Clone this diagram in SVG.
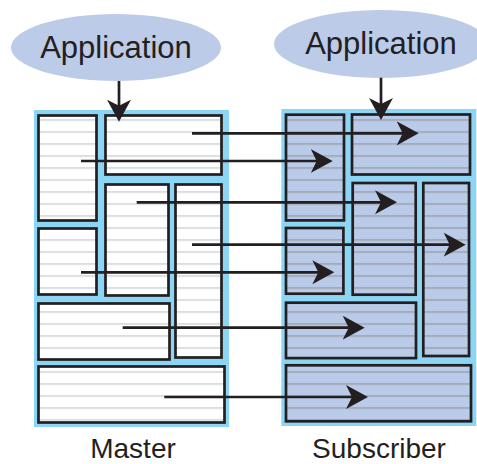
<svg xmlns="http://www.w3.org/2000/svg" width="477" height="464" viewBox="0 0 477 464">
<style>
.panel{fill:#8dd5f4}
.mbox{fill:url(#mstripe);stroke:#231f20;stroke-width:2.7}
.sbox{fill:url(#sstripe);stroke:#231f20;stroke-width:2.7}
.app{fill:#bccbe8}
.txt{font-family:"Liberation Sans",Arial,sans-serif;fill:#231f20}
.arr{stroke:#231f20;stroke-width:2.7;fill:none;marker-end:url(#head)}
</style>
<defs>
<pattern id="mstripe" patternUnits="userSpaceOnUse" x="0" y="-0.75" width="10" height="12">
<rect width="10" height="12" fill="#ffffff"/>
<rect width="10" height="1.5" fill="#cfd3d7"/>
</pattern>
<pattern id="sstripe" patternUnits="userSpaceOnUse" x="0" y="-0.75" width="10" height="12">
<rect width="10" height="12" fill="#b9cbe8"/>
<rect width="10" height="1.5" fill="#9ea2a8"/>
</pattern>
<marker id="head" markerUnits="userSpaceOnUse" markerWidth="24" markerHeight="26" viewBox="0 0 24 26" refX="12" refY="12" orient="auto">
<path d="M0,0 L22,12 L0,24 L6,12 Z" fill="#231f20"/>
</marker>
</defs>
<g id="app-master">
<ellipse class="app" cx="116" cy="47.5" rx="105" ry="33.5"/>
<text class="txt" x="116" y="58" font-size="31" text-anchor="middle">Application</text>
</g>
<g id="app-subscriber">
<ellipse class="app" cx="381" cy="44" rx="107" ry="34"/>
<text class="txt" x="381" y="54" font-size="31" text-anchor="middle">Application</text>
</g>
<g id="master">
<rect class="panel" x="34" y="110" width="195" height="317"/>
<rect id="m-a" class="mbox" x="38.5" y="115.5" width="58" height="105"/>
<rect id="m-b" class="mbox" x="105.5" y="115.5" width="116" height="59"/>
<rect id="m-c" class="mbox" x="105.5" y="184.5" width="63" height="111"/>
<rect id="m-d" class="mbox" x="175.5" y="184.5" width="46" height="173"/>
<rect id="m-e" class="mbox" x="38.5" y="228.5" width="58" height="66"/>
<rect id="m-f" class="mbox" x="38.5" y="303.5" width="131" height="56"/>
<rect id="m-g" class="mbox" x="38.5" y="366.5" width="186" height="56"/>
<text class="txt" x="133" y="457.5" font-size="28" text-anchor="middle">Master</text>
</g>
<g id="subscriber">
<rect class="panel" x="281.3" y="109" width="195" height="317"/>
<rect id="s-a" class="sbox" x="286" y="114.7" width="58" height="105.7"/>
<rect id="s-b" class="sbox" x="352" y="114.5" width="118" height="60"/>
<rect id="s-c" class="sbox" x="352.7" y="183" width="63" height="111.7"/>
<rect id="s-d" class="sbox" x="423.3" y="183" width="45.7" height="173"/>
<rect id="s-e" class="sbox" x="286" y="228" width="57.4" height="65.7"/>
<rect id="s-f" class="sbox" x="286" y="302.7" width="130" height="55.4"/>
<rect id="s-g" class="sbox" x="286" y="365.3" width="185" height="56"/>
<text class="txt" x="379" y="457.5" font-size="28" text-anchor="middle">Subscriber</text>
</g>
<g id="connectors">
<line class="arr" x1="119" y1="81" x2="119" y2="111.7"/>
<line class="arr" x1="381" y1="77.7" x2="381" y2="110"/>
<line class="arr" x1="192" y1="133.3" x2="408.7" y2="133.3"/>
<line class="arr" x1="81" y1="161" x2="322.7" y2="161"/>
<line class="arr" x1="136.7" y1="202.3" x2="387" y2="202.3"/>
<line class="arr" x1="192" y1="244.7" x2="455.7" y2="244.7"/>
<line class="arr" x1="81" y1="272.3" x2="324.3" y2="272.3"/>
<line class="arr" x1="122.7" y1="327.7" x2="354.7" y2="327.7"/>
<line class="arr" x1="164.3" y1="397" x2="358" y2="397"/>
</g>
</svg>
